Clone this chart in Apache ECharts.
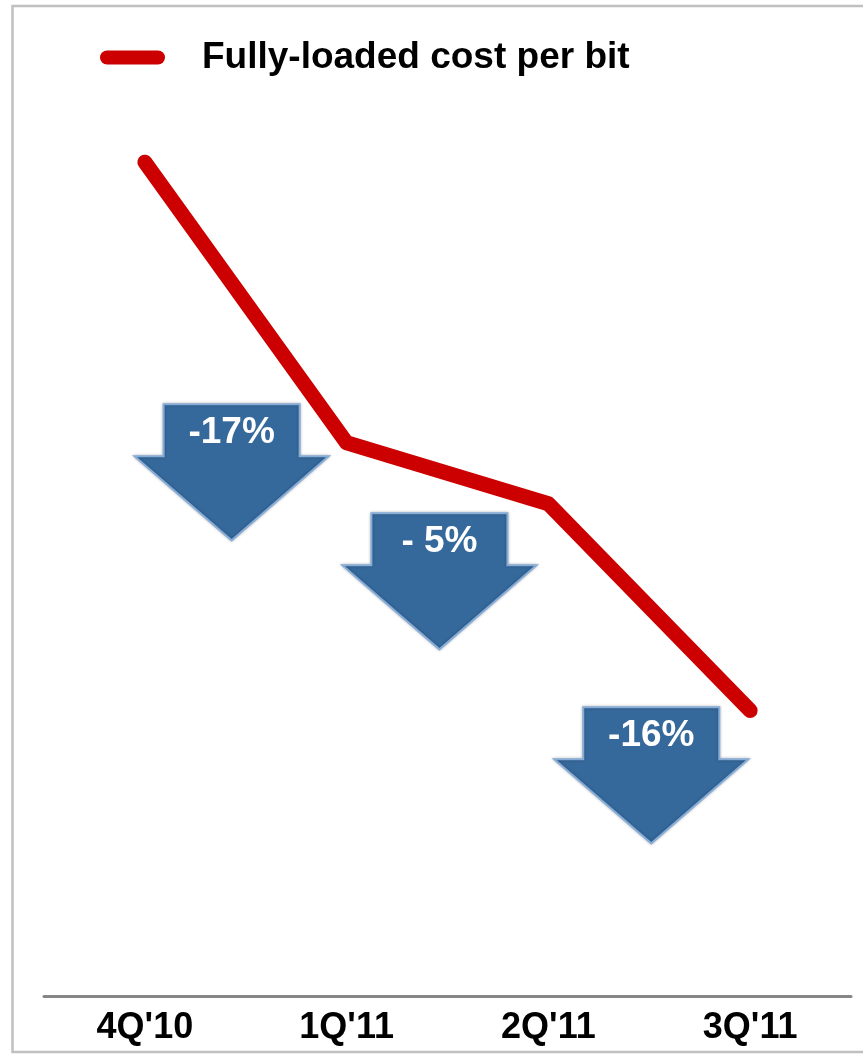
<!DOCTYPE html>
<html>
<head>
<meta charset="utf-8">
<title>Fully-loaded cost per bit</title>
<script src="https://cdn.jsdelivr.net/npm/echarts@6/dist/echarts.min.js"></script>
<style>
  html, body { margin: 0; padding: 0; background: #fff; }
  #main { width: 863px; height: 1055px; }
</style>
</head>
<body>
<div id="main"></div>
<script>
// quarters on the x axis
var quarters = ["4Q'10", "1Q'11", "2Q'11", "3Q'11"];
// cost index (4Q'10 = 100)
var costIndex = [100, 82.5, 78.7, 65.8];
// down arrows: label, position between quarters, top of arrow (same scale as the line)
var arrowLabels = ['-17%', '- 5%', '-16%'];
var arrowPos = [0.43, 1.46, 2.51];
var arrowTop = [84.9, 78.1, 66.0];

var font = '"Liberation Sans", Arial, sans-serif';
var chart = echarts.init(document.getElementById('main'));

function renderArrow(params, api) {
  var i = params.dataIndex;
  var pos = arrowPos[i];
  var k = Math.floor(pos);
  var f = pos - k;
  var p1 = api.coord([k, arrowTop[i]]);
  var p2 = api.coord([k + 1, arrowTop[i]]);
  var cx = p1[0] + f * (p2[0] - p1[0]);
  var top = p1[1];
  var shaftW = 136, headW = 194, shaftH = 52, totalH = 136;
  var pts = [
    [cx - shaftW / 2, top],
    [cx + shaftW / 2, top],
    [cx + shaftW / 2, top + shaftH],
    [cx + headW / 2, top + shaftH],
    [cx, top + totalH],
    [cx - headW / 2, top + shaftH],
    [cx - shaftW / 2, top + shaftH]
  ];
  return {
    type: 'group',
    children: [
      {
        type: 'polygon',
        shape: { points: pts },
        style: {
          fill: '#35689b',
          stroke: '#86acd8',
          lineWidth: 2,
          shadowBlur: 3,
          shadowColor: 'rgba(0,0,0,0.25)'
        }
      },
      {
        type: 'text',
        x: cx,
        y: top + 28,
        style: {
          text: arrowLabels[i],
          fill: '#fff',
          font: 'bold 37px ' + font,
          align: 'center',
          verticalAlign: 'middle'
        }
      }
    ]
  };
}

var option = {
  animation: false,
  backgroundColor: '#fff',
  graphic: [
    {
      type: 'rect',
      shape: { x: 12.5, y: 6, width: 900, height: 1046 },
      style: { fill: 'none', stroke: '#c0c0c0', lineWidth: 2.5 },
      z: -1
    }
  ],
  legend: {
    data: ['Fully-loaded cost per bit'],
    left: 95,
    top: 34,
    itemWidth: 65,
    itemHeight: 14,
    icon: 'path://M7,0 H58 A7,7 0 0 1 58,14 H7 A7,7 0 0 1 7,0 Z',
    textStyle: {
      fontFamily: font,
      fontSize: 37,
      fontWeight: 'bold',
      color: '#000',
      padding: [0, 0, 0, 32]
    }
  },
  grid: { left: 44, right: 12, top: 82, bottom: 59 },
  xAxis: {
    type: 'category',
    data: quarters,
    boundaryGap: true,
    axisLine: { lineStyle: { color: '#868686', width: 3 } },
    axisTick: { show: false },
    axisLabel: {
      margin: 14,
      color: '#000',
      fontFamily: font,
      fontSize: 36,
      fontWeight: 'bold'
    }
  },
  yAxis: {
    type: 'value',
    min: 48,
    max: 105,
    show: false,
    splitLine: { show: false }
  },
  series: [
    {
      name: 'Fully-loaded cost per bit',
      type: 'line',
      data: costIndex,
      color: '#cc0000',
      symbol: 'none',
      lineStyle: { color: '#cc0000', width: 15, cap: 'round', join: 'round' },
      z: 3
    },
    {
      type: 'custom',
      renderItem: renderArrow,
      data: arrowTop.map(function (v, i) { return [i, v]; }),
      z: 4
    }
  ]
};

chart.setOption(option);
</script>
</body>
</html>
